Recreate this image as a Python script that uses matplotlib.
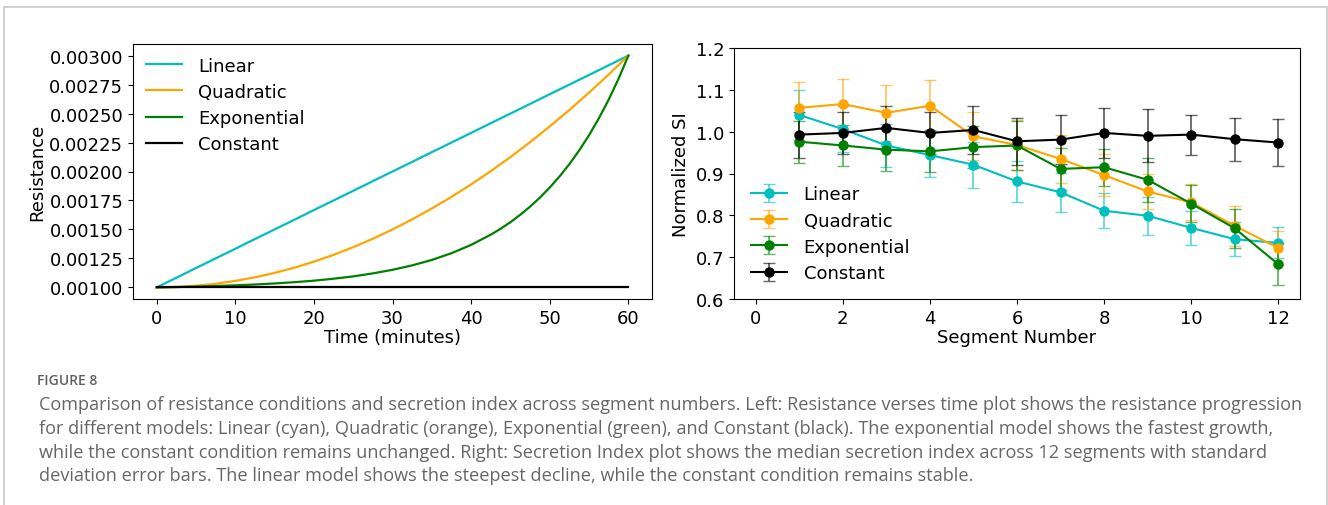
import numpy as np
import matplotlib
matplotlib.use("Agg")
import matplotlib.pyplot as plt
from matplotlib.patches import Rectangle

# ---- left panel: resistance vs time (x1e-3)
time_min = [0, 2.5, 5, 7.5, 10, 12.5, 15, 17.5, 20, 22.5, 25, 27.5, 30,
            32.5, 35, 37.5, 40, 42.5, 45, 47.5, 50, 52.5, 55, 57.5, 60]
res_linear = [1.000, 1.083, 1.167, 1.250, 1.333, 1.417, 1.500, 1.583, 1.667,
              1.750, 1.833, 1.917, 2.000, 2.083, 2.167, 2.250, 2.333, 2.417,
              2.500, 2.583, 2.667, 2.750, 2.833, 2.917, 3.000]
res_quadratic = [1.000, 1.003, 1.014, 1.031, 1.056, 1.087, 1.125, 1.170, 1.222,
                 1.281, 1.347, 1.420, 1.500, 1.587, 1.681, 1.781, 1.889, 2.003,
                 2.125, 2.253, 2.389, 2.531, 2.681, 2.837, 3.000]
res_constant = [1.000] * 25
# exponential curve bends hard at the end, so it is read more densely there
time_exp = [0, 2.5, 5, 7.5, 10, 12.5, 15, 17.5, 20, 22.5, 25, 27.5, 30,
            32.5, 35, 37.5, 40, 42.5, 43.75, 45, 46.25, 47.5, 48.75, 50,
            51.25, 52.5, 53.75, 55, 56.25, 57.5, 58.75, 60]
res_exponential = [1.000, 1.003, 1.007, 1.012, 1.018, 1.025, 1.034, 1.045, 1.058,
                   1.075, 1.095, 1.121, 1.152, 1.190, 1.237, 1.295, 1.367, 1.455,
                   1.506, 1.563, 1.627, 1.697, 1.775, 1.862, 1.958, 2.064, 2.183,
                   2.314, 2.460, 2.621, 2.801, 3.000]

# ---- right panel: normalized secretion index per segment
segments = [1, 2, 3, 4, 5, 6, 7, 8, 9, 10, 11, 12]
si_linear = [1.040, 1.006, 0.967, 0.944, 0.921, 0.881, 0.855, 0.811, 0.799, 0.770, 0.743, 0.734]
sd_linear = [0.060, 0.055, 0.052, 0.052, 0.055, 0.050, 0.046, 0.042, 0.045, 0.040, 0.040, 0.037]
si_quadratic = [1.057, 1.066, 1.045, 1.062, 0.989, 0.968, 0.935, 0.896, 0.857, 0.831, 0.775, 0.722]
sd_quadratic = [0.061, 0.060, 0.067, 0.062, 0.057, 0.060, 0.057, 0.050, 0.043, 0.043, 0.048, 0.040]
si_exponential = [0.976, 0.967, 0.957, 0.953, 0.963, 0.967, 0.911, 0.915, 0.885, 0.828, 0.769, 0.683]
sd_exponential = [0.050, 0.050, 0.050, 0.050, 0.050, 0.058, 0.050, 0.044, 0.053, 0.045, 0.046, 0.050]
si_constant = [0.993, 0.997, 1.009, 0.997, 1.004, 0.977, 0.981, 0.997, 0.990, 0.993, 0.982, 0.974]
sd_constant = [0.055, 0.050, 0.053, 0.050, 0.057, 0.056, 0.058, 0.060, 0.063, 0.048, 0.051, 0.056]

labels = ["Linear", "Quadratic", "Exponential", "Constant"]
colors = ["c", "orange", "green", "black"]

caption_title = "FIGURE 8"
caption_lines = [
    "Comparison of resistance conditions and secretion index across segment numbers. Left: Resistance verses time plot shows the resistance progression",
    "for different models: Linear (cyan), Quadratic (orange), Exponential (green), and Constant (black). The exponential model shows the fastest growth,",
    "while the constant condition remains unchanged. Right: Secretion Index plot shows the median secretion index across 12 segments with standard",
    "deviation error bars. The linear model shows the steepest decline, while the constant condition remains stable.",
]

W, H = 1328, 506
fig = plt.figure(figsize=(W / 100, H / 100), dpi=100)
plt.rcParams['font.size'] = 13

def box(l, t, r, b):
    return [l / W, 1 - b / H, (r - l) / W, (b - t) / H]

# outer frame of the figure panel
fig.patches.append(Rectangle((4 / W, -0.05), (1323 / W), 1 - 8 / H + 0.05,
                             transform=fig.transFigure, fill=False,
                             edgecolor="#c8c8c8", lw=1.2))

# left plot
ax1 = fig.add_axes(box(133, 45, 652, 300))
ax1.plot(time_min, np.array(res_linear) * 1e-3, color=colors[0], lw=1.6, label=labels[0])
ax1.plot(time_min, np.array(res_quadratic) * 1e-3, color=colors[1], lw=1.6, label=labels[1])
ax1.plot(time_exp, np.array(res_exponential) * 1e-3, color=colors[2], lw=1.6, label=labels[2])
ax1.plot(time_min, np.array(res_constant) * 1e-3, color=colors[3], lw=1.6, label=labels[3])
ax1.set_xlabel("Time (minutes)", fontsize=13, labelpad=1)
ax1.set_ylabel("Resistance", fontsize=13, labelpad=2)
ax1.set_xticks([0, 10, 20, 30, 40, 50, 60])
ax1.set_yticks(np.arange(0.001, 0.00301, 0.00025))
ax1.yaxis.set_major_formatter(matplotlib.ticker.FormatStrFormatter('%.5f'))
ax1.tick_params(labelsize=13)
ax1.legend(loc="upper left", frameon=False, fontsize=13, handlelength=2.0,
           borderaxespad=0.3, labelspacing=0.45, handletextpad=0.9)

# right plot
ax2 = fig.add_axes(box(734, 49, 1300, 300))
for y, e, lab, col in zip([si_linear, si_quadratic, si_exponential, si_constant],
                          [sd_linear, sd_quadratic, sd_exponential, sd_constant],
                          labels, colors):
    eb = ax2.errorbar(segments, y, yerr=e, color=col, marker="o", ms=6.5, lw=1.5,
                      capsize=4, elinewidth=1.3, label=lab)
    for c in eb[1]:
        c.set_alpha(0.6)
    for c in eb[2]:
        c.set_alpha(0.6)
ax2.set_xlim(-0.5, 12.5)
ax2.set_ylim(0.6, 1.2)
ax2.set_xticks([0, 2, 4, 6, 8, 10, 12])
ax2.set_xlabel("Segment Number", fontsize=13, labelpad=1)
ax2.set_ylabel("Normalized SI", fontsize=13, labelpad=4)
ax2.tick_params(labelsize=13)
ax2.legend(loc="lower left", frameon=False, fontsize=13, handlelength=2.0,
           borderaxespad=0.55, labelspacing=0.45, handletextpad=0.9)

# caption
fig.text(37 / W, 1 - 381 / H, caption_title, fontsize=10, color="#606060",
         family="Open Sans", fontweight="semibold", va="center")
for i, line in enumerate(caption_lines):
    fig.text(39 / W, 1 - (405 + i * 23.8) / H, line, fontsize=13.1, color="#666666",
             family="Open Sans", va="center")

fig.savefig("out.png", dpi=100)
